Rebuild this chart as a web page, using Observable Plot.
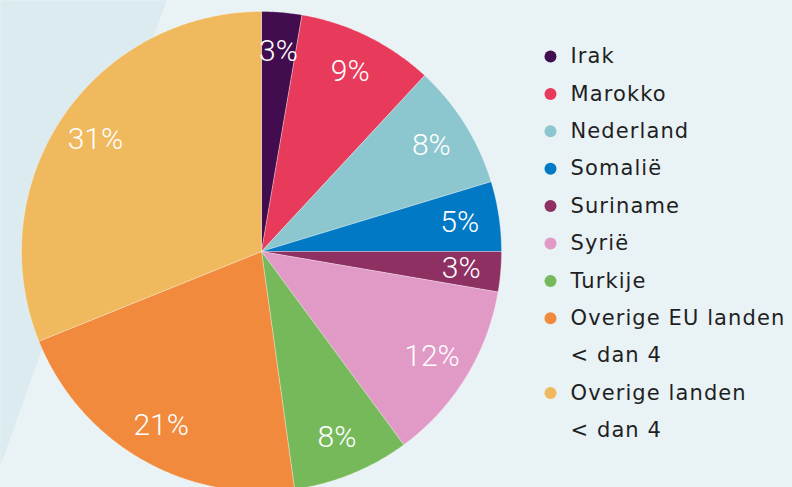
<!DOCTYPE html>
<html>
<head>
<meta charset="utf-8">
<script src="https://cdn.jsdelivr.net/npm/d3@7"></script>
<script src="https://cdn.jsdelivr.net/npm/@observablehq/plot@0.6"></script>
<style>
  html, body { margin: 0; padding: 0; background: #e9f2f5; }
  #chart { width: 792px; height: 487px; overflow: hidden; }
  g[font-family*="DejaVu"] text, g[font-family*="DejaVu"] { letter-spacing: 1.1px; }
</style>
</head>
<body>
<div id="chart"></div>
<script>
// Data
const categories = ["Irak", "Marokko", "Nederland", "Somalië", "Suriname", "Syrië", "Turkije", "Overige EU landen\n< dan 4", "Overige landen\n< dan 4"];
const values = [2.7, 9.2, 8.4, 4.7, 2.7, 12.2, 7.9, 21.1, 31.1];
const labels = ["3%", "9%", "8%", "5%", "3%", "12%", "8%", "21%", "31%"];
const colors = ["#420d4e", "#e83a5b", "#8cc6ce", "#0279c4", "#8f3063", "#e199c6", "#76b95a", "#f18a3c", "#f0b95d"];

// Layout
const W = 792, H = 487;
const cx = 261, cy = 251, R = 240, labelR = 0.835 * R;
const legendX = 550, legendTop = 56, legendStep = 37.4;

const pie = d3.pie().sort(null).value(d => d.value)(categories.map((c, i) => ({cat: c, value: values[i], label: labels[i]})));

// slice polygons
const slicePts = [];
for (const a of pie) {
  slicePts.push({cat: a.data.cat, x: cx, y: cy});
  const n = Math.max(2, Math.ceil((a.endAngle - a.startAngle) / (Math.PI / 360)));
  for (let k = 0; k <= n; k++) {
    const t = a.startAngle + (a.endAngle - a.startAngle) * k / n;
    slicePts.push({cat: a.data.cat, x: cx + R * Math.sin(t), y: cy - R * Math.cos(t)});
  }
  slicePts.push({cat: a.data.cat, x: cx, y: cy});
}
const labelPts = pie.map(a => {
  const t = (a.startAngle + a.endAngle) / 2;
  return {label: a.data.label, x: cx + labelR * Math.sin(t), y: cy - labelR * Math.cos(t)};
});

// legend rows
const legendDots = [], legendText = [];
let line = 0;
categories.forEach((c, i) => {
  const parts = c.split("\n");
  legendDots.push({cat: c, x: legendX, y: legendTop + legendStep * line});
  parts.forEach((p, j) => {
    legendText.push({text: p, x: legendX + 20, y: legendTop + legendStep * line});
    line++;
  });
});

// background stripe
const stripe = [{x: 0, y: 0}, {x: 166, y: 0}, {x: 0, y: 465}, {x: 0, y: 0}];

const chart = Plot.plot({
  width: W, height: H, margin: 0,
  x: {domain: [0, W], range: [0, W], axis: null},
  y: {domain: [0, H], range: [0, H], axis: null},
  color: {domain: categories, range: colors},
  style: {background: "transparent", overflow: "hidden"},
  marks: [
    Plot.line(stripe, {x: "x", y: "y", fill: "#dcebf0", stroke: "none"}),
    Plot.line(slicePts, {x: "x", y: "y", z: "cat", fill: "cat", stroke: "#ffffff", strokeWidth: 0.6, strokeOpacity: 0.5, curve: "linear"}),
    Plot.text(labelPts, {x: "x", y: "y", text: "label", fill: "white", fontSize: 30, fontWeight: 300, fontFamily: "Roboto, Lato, sans-serif"}),
    Plot.dot(legendDots, {x: "x", y: "y", r: 6, fill: "cat", stroke: "none"}),
    Plot.text(legendText, {x: "x", y: "y", text: "text", textAnchor: "start", fill: "#1f1f1f", fontSize: 21, fontFamily: "'DejaVu Sans', sans-serif"})
  ]
});
document.getElementById("chart").appendChild(chart);
</script>
</body>
</html>
